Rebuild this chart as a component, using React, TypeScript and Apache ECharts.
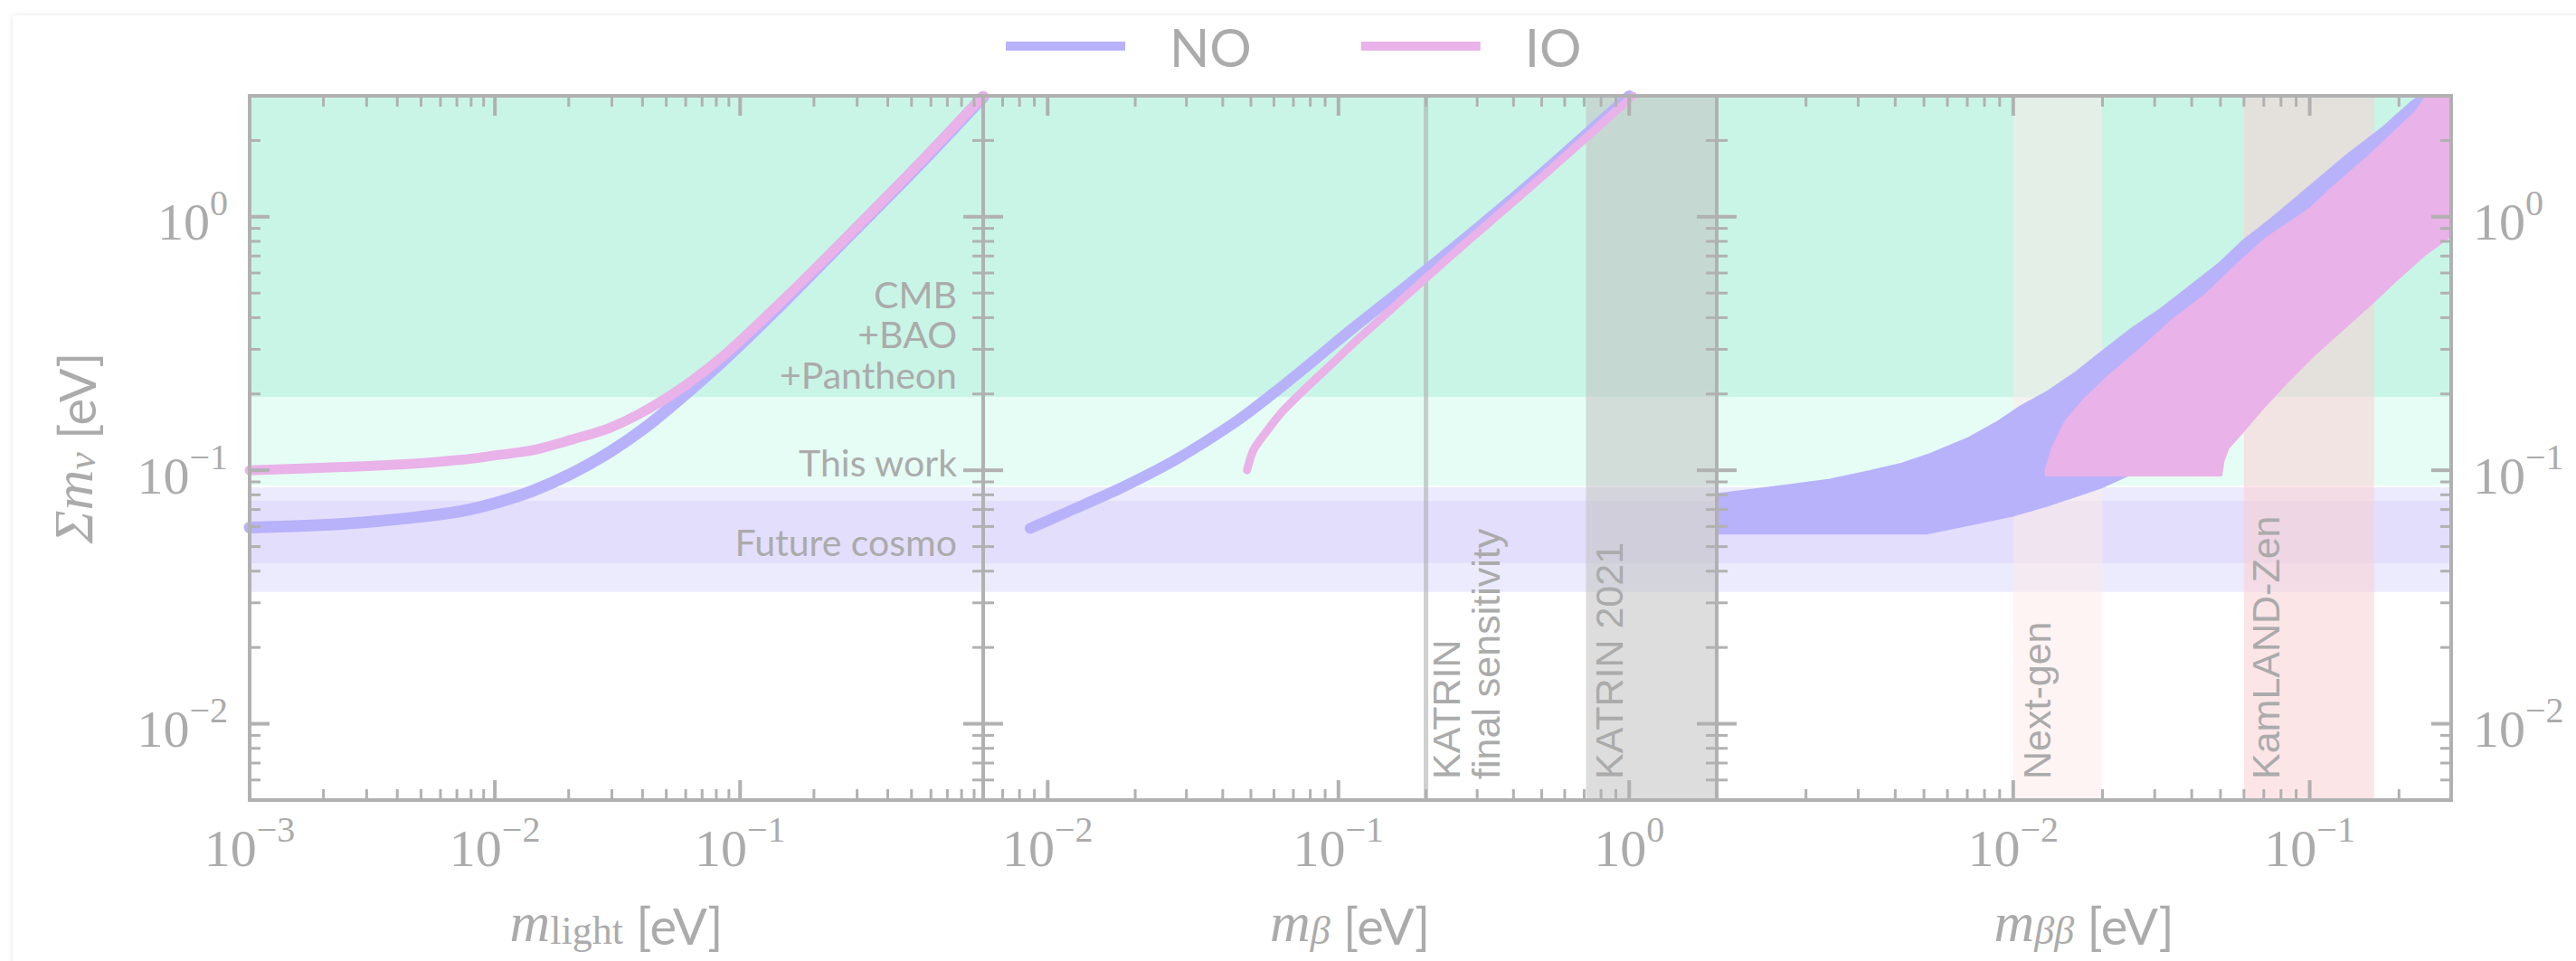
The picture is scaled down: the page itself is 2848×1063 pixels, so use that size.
import React, { useEffect, useRef } from 'react';
import * as echarts from 'echarts';

const W = 2848;
const H = 1063;

// ---------- axis ranges ----------
const xRangeLight = [0.001, 0.98];
const xRangeBeta = [0.006, 2];
const xRangeBB = [0.001, 0.3];
const yRange = [0.005, 3];

// ---------- tick values ----------
const xMajorLight = [0.001, 0.01, 0.1];
const xMinorLight = [0.002, 0.003, 0.004, 0.005, 0.006, 0.007, 0.008, 0.009, 0.02, 0.03, 0.04, 0.05, 0.06, 0.07, 0.08, 0.09, 0.2, 0.3, 0.4, 0.5, 0.6, 0.7, 0.8, 0.9];
const xMajorBeta = [0.01, 0.1, 1];
const xMinorBeta = [0.007, 0.008, 0.009, 0.02, 0.03, 0.04, 0.05, 0.06, 0.07, 0.08, 0.09, 0.2, 0.3, 0.4, 0.5, 0.6, 0.7, 0.8, 0.9];
const xMajorBB = [0.01, 0.1];
const xMinorBB = [0.002, 0.003, 0.004, 0.005, 0.006, 0.007, 0.008, 0.009, 0.02, 0.03, 0.04, 0.05, 0.06, 0.07, 0.08, 0.09, 0.2];
const yMajor = [0.01, 0.1, 1];
const yMinor = [0.006, 0.007, 0.008, 0.009, 0.02, 0.03, 0.04, 0.05, 0.06, 0.07, 0.08, 0.09, 0.2, 0.3, 0.4, 0.5, 0.6, 0.7, 0.8, 0.9, 2];

// ---------- bands ----------
const cmbBand = [0.194, 3];
const thisWorkBand = [0.087, 0.194];
const futureCosmoOuter = [0.0331, 0.0856];
const futureCosmoInner = [0.043, 0.0757];
const katrinFinal = [0.2];
const katrin2021 = [0.71, 2];
const nextGenBand = [0.01, 0.02];
const kamlandBand = [0.06, 0.165];

// ---------- panel 1: m_light ----------
const lightNO_m = [0.001, 0.0024, 0.0046, 0.0073, 0.0104, 0.0143, 0.0205, 0.0294, 0.042, 0.059, 0.087, 0.137, 0.246, 0.53, 0.98];
const lightNO_sum = [0.0595, 0.0615, 0.065, 0.069, 0.075, 0.083, 0.097, 0.118, 0.15, 0.197, 0.275, 0.42, 0.745, 1.58, 2.97];
const lightIO_m = [0.001, 0.0024, 0.0046, 0.0073, 0.0104, 0.0143, 0.0205, 0.0294, 0.042, 0.059, 0.087, 0.137, 0.246, 0.53, 0.98];
const lightIO_sum = [0.1, 0.103, 0.106, 0.11, 0.115, 0.12, 0.132, 0.147, 0.174, 0.214, 0.287, 0.432, 0.753, 1.6, 3.0];

// ---------- panel 2: m_beta ----------
const betaNO_m = [0.0087, 0.0122, 0.0178, 0.026, 0.035, 0.046, 0.06, 0.081, 0.11, 0.177, 0.272, 0.49, 1.0];
const betaNO_sum = [0.059, 0.07, 0.085, 0.106, 0.13, 0.16, 0.202, 0.267, 0.357, 0.55, 0.82, 1.45, 3.0];
const betaIO_m = [0.0485, 0.051, 0.056, 0.064, 0.077, 0.094, 0.117, 0.148, 0.192, 0.285, 0.505, 1.03];
const betaIO_sum = [0.1, 0.12, 0.14, 0.17, 0.21, 0.26, 0.33, 0.42, 0.55, 0.82, 1.45, 3.0];

// ---------- panel 3: m_betabeta regions (outline) ----------
const bbNO_m = [0.001, 0.00166, 0.00241, 0.00324, 0.00422, 0.00527, 0.0071, 0.00888, 0.0107, 0.0129, 0.0161, 0.0201, 0.0252, 0.0315, 0.0394, 0.0493, 0.0593, 0.0743, 0.1, 0.1347, 0.1749, 0.2188, 0.2357, 0.3, 0.3, 0.083, 0.0394, 0.0243, 0.0201, 0.0161, 0.0129, 0.00993, 0.00737, 0.00508, 0.001];
const bbNO_sum = [0.0803, 0.0864, 0.0916, 0.0986, 0.106, 0.1158, 0.134, 0.155, 0.1795, 0.2018, 0.2405, 0.295, 0.362, 0.432, 0.53, 0.65, 0.798, 0.98, 1.313, 1.759, 2.222, 2.809, 3.0, 3.0, 0.88, 0.304, 0.1264, 0.0957, 0.0864, 0.0791, 0.0725, 0.0664, 0.0617, 0.0565, 0.0565];
const bbIO_m = [0.0129, 0.0129, 0.0136, 0.015, 0.0174, 0.0209, 0.0272, 0.0339, 0.0441, 0.0572, 0.0715, 0.1, 0.1205, 0.1564, 0.1884, 0.227, 0.249, 0.3, 0.3, 0.2445, 0.1955, 0.1623, 0.1298, 0.1038, 0.083, 0.0689, 0.0594, 0.0531, 0.0511, 0.0502];
const bbIO_sum = [0.0957, 0.1, 0.1227, 0.1551, 0.1904, 0.2336, 0.304, 0.3841, 0.4856, 0.6504, 0.822, 1.07, 1.313, 1.708, 2.096, 2.573, 3.0, 3.0, 0.8465, 0.7103, 0.5619, 0.4577, 0.3623, 0.2868, 0.2203, 0.1743, 0.1421, 0.1227, 0.1092, 0.0957];

// ---------- styling ----------
const NO_COLOR = '#b8b2fb';
const IO_COLOR = '#e9b2e8';
const AX = '#b1b1b1';
const TXT = '#ababab';
const SERIF = '"Liberation Serif", "DejaVu Serif", serif';
const SANS = 'Lato, "Noto Sans", sans-serif';
const ARIAL = '"Liberation Sans", Arial, sans-serif';

const GRIDS = [
  { left: 276, top: 106, width: 811, height: 779 },
  { left: 1087, top: 106, width: 811, height: 779 },
  { left: 1898, top: 106, width: 812, height: 779 },
];

const pairs = (xs: number[], ys: number[]) => xs.map((x, i) => [x, ys[i]]);

function powLabel(v: number, hide: number[] = []) {
  const l = Math.log10(v);
  const e = Math.round(l);
  if (Math.abs(l - e) > 1e-4) return '';
  if (hide.includes(e)) return '';
  return `{b|10}{s|${e < 0 ? '\u2212' : ''}${Math.abs(e)}}`;
}

const labelRich = {
  b: { fontSize: 58, fontFamily: SERIF, color: TXT, lineHeight: 70, verticalAlign: 'bottom' },
  s: { fontSize: 40, fontFamily: SERIF, color: TXT, lineHeight: 36, verticalAlign: 'top' },
};

const nameRich = {
  mi: { fontSize: 62, fontFamily: SERIF, fontStyle: 'italic', color: TXT, lineHeight: 74, verticalAlign: 'bottom' },
  sub: { fontSize: 44, fontFamily: SERIF, color: TXT, lineHeight: 44, verticalAlign: 'bottom' },
  subi: { fontSize: 44, fontFamily: SERIF, fontStyle: 'italic', color: TXT, lineHeight: 44, verticalAlign: 'bottom' },
  u: { fontSize: 56, fontFamily: SANS, color: TXT, lineHeight: 74, verticalAlign: 'bottom' },
};

const bandColors = [
  '#c9f5e7', // 0 CMB
  '#e6fdf5', // 1 this work
  '#ebebfd', // 2 future outer
  '#e3defb', // 3 future inner
  'rgba(193,193,193,0.55)', // 4 KATRIN 2021
  'rgba(253,233,231,0.5)', // 5 next-gen
  'rgba(249,208,212,0.55)', // 6 KamLAND
  'rgba(175,175,175,0.6)', // 7 KATRIN final line
];

function bandRows(extra: number[][]) {
  return [
    [cmbBand[0], cmbBand[1], 0, 0],
    [thisWorkBand[0], thisWorkBand[1], 0, 1],
    [futureCosmoOuter[0], futureCosmoOuter[1], 0, 2],
    [futureCosmoInner[0], futureCosmoInner[1], 0, 3],
    ...extra,
  ];
}

function bandSeries(gi: number, extra: number[][]) {
  return {
    type: 'custom',
    xAxisIndex: gi,
    yAxisIndex: gi,
    z: 1,
    silent: true,
    clip: true,
    data: bandRows(extra),
    renderItem: (params: any, api: any) => {
      const cs = params.coordSys;
      const lo = api.value(0);
      const hi = api.value(1);
      const kind = api.value(2);
      const color = bandColors[api.value(3)];
      if (kind === 0) {
        const y1 = api.coord([0.01, hi])[1];
        const y0 = api.coord([0.01, lo])[1];
        return { type: 'rect', shape: { x: cs.x, y: y1, width: cs.width, height: y0 - y1 }, style: { fill: color } };
      }
      if (kind === 1) {
        const x0 = api.coord([lo, 0.1])[0];
        const x1 = api.coord([hi, 0.1])[0];
        return { type: 'rect', shape: { x: x0, y: cs.y, width: x1 - x0, height: cs.height }, style: { fill: color } };
      }
      const x = api.coord([lo, 0.1])[0];
      return { type: 'line', shape: { x1: x, y1: cs.y, x2: x, y2: cs.y + cs.height }, style: { stroke: color, lineWidth: 5 } };
    },
  };
}

function tickSeries(gi: number, xMaj: number[], xMin: number[]) {
  const rows: number[][] = [];
  xMaj.forEach((v) => rows.push([v, 0.1, 0, 1]));
  xMin.forEach((v) => rows.push([v, 0.1, 0, 0]));
  yMajor.forEach((v) => rows.push([0.01, v, 1, 1]));
  yMinor.forEach((v) => rows.push([0.01, v, 1, 0]));
  return {
    type: 'custom',
    xAxisIndex: gi,
    yAxisIndex: gi,
    z: 6,
    silent: true,
    data: rows,
    renderItem: (params: any, api: any) => {
      const cs = params.coordSys;
      const kind = api.value(2);
      const major = api.value(3) === 1;
      const len = major ? 22 : 12;
      const lw = major ? 4 : 3;
      const st = { stroke: AX, lineWidth: lw };
      const p = api.coord([api.value(0), api.value(1)]);
      if (kind === 0) {
        const x = p[0];
        return {
          type: 'group',
          children: [
            { type: 'line', shape: { x1: x, y1: cs.y + cs.height, x2: x, y2: cs.y + cs.height - len }, style: st },
            { type: 'line', shape: { x1: x, y1: cs.y, x2: x, y2: cs.y + len }, style: st },
          ],
        };
      }
      const y = p[1];
      return {
        type: 'group',
        children: [
          { type: 'line', shape: { x1: cs.x, y1: y, x2: cs.x + len, y2: y }, style: st },
          { type: 'line', shape: { x1: cs.x + cs.width, y1: y, x2: cs.x + cs.width - len, y2: y }, style: st },
        ],
      };
    },
  };
}

function regionSeries(name: string, xs: number[], ys: number[], color: string) {
  return {
    type: 'custom',
    name,
    xAxisIndex: 2,
    yAxisIndex: 2,
    z: 3,
    silent: true,
    clip: true,
    itemStyle: { color },
    data: pairs(xs, ys),
    renderItem: (params: any, api: any) => {
      if (params.dataIndex !== 0) return null;
      const pts = xs.map((x, i) => api.coord([x, ys[i]]));
      return { type: 'polygon', shape: { points: pts }, style: { fill: color, stroke: color, lineWidth: 3, lineJoin: 'round' } };
    },
  };
}

function lineSeries(name: string, gi: number, xs: number[], ys: number[], color: string, width: number) {
  return {
    type: 'line',
    name,
    xAxisIndex: gi,
    yAxisIndex: gi,
    z: 3,
    silent: true,
    showSymbol: false,
    smooth: 0.3,
    data: pairs(xs, ys),
    itemStyle: { color },
    lineStyle: { color, width, cap: 'round', join: 'round' },
  };
}

const xRanges = [xRangeLight, xRangeBeta, xRangeBB];
const xNames = [
  '{mi|m}{sub|light}{u| [eV]}',
  '{mi|m}{subi|\u03B2}{u| [eV]}',
  '{mi|m}{subi|\u03B2\u03B2}{u| [eV]}',
];

function vText(text: string, x: number, y: number) {
  return {
    type: 'text',
    x,
    y,
    rotation: Math.PI / 2,
    z: 40,
    style: { text, fill: TXT, fontSize: 43, fontFamily: ARIAL, align: 'left', verticalAlign: 'middle' },
  };
}

function rText(text: string, x: number, y: number) {
  return {
    type: 'text',
    x,
    y,
    z: 40,
    style: { text, fill: TXT, fontSize: 41, fontFamily: SANS, align: 'right', verticalAlign: 'middle' },
  };
}

const option: any = {
  animation: false,
  backgroundColor: 'transparent',
  legend: {
    left: 1112,
    top: 22,
    padding: 0,
    itemWidth: 132,
    itemHeight: 10,
    itemGap: 121,
    data: [
      { name: 'NO', icon: 'rect' },
      { name: 'IO', icon: 'rect' },
    ],
    textStyle: { fontSize: 58, fontFamily: SANS, color: TXT, padding: [0, 0, 0, 44] },
  },
  grid: GRIDS.map((g) => ({ ...g, containLabel: false })),
  xAxis: xRanges.map((r, i) => ({
    gridIndex: i,
    type: 'log',
    logBase: 10,
    min: r[0],
    max: r[1],
    axisLine: { show: false },
    axisTick: { show: false },
    splitLine: { show: false },
    axisLabel: {
      formatter: (v: number) => powLabel(v, i === 2 ? [-3] : []),
      rich: labelRich,
      margin: 12,
      showMinLabel: true,
      showMaxLabel: true,
      hideOverlap: false,
    },
    name: xNames[i],
    nameLocation: 'middle',
    nameGap: 92,
    nameTextStyle: { rich: nameRich },
  })),
  yAxis: [0, 1, 2].map((i) => ({
    gridIndex: i,
    type: 'log',
    logBase: 10,
    min: yRange[0],
    max: yRange[1],
    position: i === 2 ? 'right' : 'left',
    axisLine: { show: false },
    axisTick: { show: false },
    splitLine: { show: false },
    axisLabel: {
      show: i !== 1,
      formatter: (v: number) => powLabel(v),
      rich: labelRich,
      margin: 24,
      showMinLabel: true,
      showMaxLabel: true,
      hideOverlap: false,
    },
    name: i === 0 ? '{mi|\u03A3m}{subi|\u03BD}{u| [eV]}' : '',
    nameLocation: 'middle',
    nameRotate: 90,
    nameGap: 164,
    nameTextStyle: { rich: nameRich },
  })),
  series: [
    bandSeries(0, []),
    bandSeries(1, [
      [katrin2021[0], katrin2021[1], 1, 4],
      [katrinFinal[0], katrinFinal[0], 2, 7],
    ]),
    bandSeries(2, [
      [nextGenBand[0], nextGenBand[1], 1, 5],
      [kamlandBand[0], kamlandBand[1], 1, 6],
    ]),
    lineSeries('NO', 0, lightNO_m, lightNO_sum, NO_COLOR, 13),
    lineSeries('IO', 0, lightIO_m, lightIO_sum, IO_COLOR, 11),
    lineSeries('NO', 1, betaNO_m, betaNO_sum, NO_COLOR, 12),
    lineSeries('IO', 1, betaIO_m, betaIO_sum, IO_COLOR, 9),
    regionSeries('NO', bbNO_m, bbNO_sum, NO_COLOR),
    regionSeries('IO', bbIO_m, bbIO_sum, IO_COLOR),
    tickSeries(0, xMajorLight, xMinorLight),
    tickSeries(1, xMajorBeta, xMinorBeta),
    tickSeries(2, xMajorBB, xMinorBB),
  ],
  graphic: {
    elements: [
      ...GRIDS.map((g) => ({
        type: 'rect',
        z: 50,
        silent: true,
        shape: { x: g.left, y: g.top, width: g.width, height: g.height },
        style: { fill: 'none', stroke: AX, lineWidth: 4 },
      })),
      rText('CMB', 1058, 325),
      rText('+BAO', 1058, 369),
      rText('+Pantheon', 1058, 414),
      rText('This work', 1058, 511),
      rText('Future cosmo', 1058, 599),
      vText('KATRIN', 1599, 862),
      vText('final sensitivity', 1643, 862),
      vText('KATRIN 2021', 1779, 862),
      vText('Next-gen', 2252, 862),
      vText('KamLAND-Zen', 2505, 862),
    ],
  },
};

export default function App() {
  const ref = useRef<HTMLDivElement>(null);
  useEffect(() => {
    document.body.style.margin = '0';
    document.body.style.overflow = 'hidden';
    const chart = echarts.init(ref.current as HTMLDivElement, null, { renderer: 'svg' });
    chart.setOption(option);
    return () => chart.dispose();
  }, []);
  return (
    <div style={{ position: 'relative', width: W, height: H, overflow: 'hidden', background: '#ffffff' }}>
      <div
        style={{
          position: 'absolute',
          left: 14,
          top: 17,
          width: W,
          height: H,
          background: '#ffffff',
          boxShadow: '0 0 6px rgba(0,0,0,0.10)',
        }}
      />
      <div ref={ref} style={{ position: 'absolute', left: 0, top: 0, width: W, height: H }} />
    </div>
  );
}
